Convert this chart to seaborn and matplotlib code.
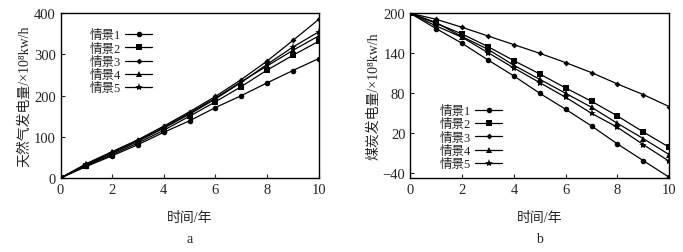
import numpy as np
import pandas as pd
import seaborn as sns
import matplotlib.pyplot as plt

years = list(range(0, 11))
scenarios = ["情景1", "情景2", "情景3", "情景4", "情景5"]

# natural gas generation (panel a)
gas_s1 = [0, 28, 54, 81, 111, 139, 171, 200, 231, 261, 290]
gas_s2 = [0, 30, 57, 85, 116, 150, 185, 222, 262, 298, 332]
gas_s3 = [0, 35, 64, 93, 126, 161, 198, 239, 284, 334, 385]
gas_s4 = [0, 33, 62, 91, 123, 158, 194, 234, 272, 310, 345]
gas_s5 = [0, 31, 60, 89, 121, 155, 192, 232, 276, 318, 355]

# coal generation (panel b)
coal_s1 = [200, 177, 155, 130, 106, 80, 56, 31, 4, -21, -46]
coal_s2 = [200, 185, 169, 150, 129, 109, 88, 68, 46, 22, -1]
coal_s3 = [200, 191, 179, 166, 153, 140, 126, 111, 94, 78, 60]
coal_s4 = [200, 186, 165, 146, 122, 101, 80, 59, 35, 12, -12]
coal_s5 = [200, 181, 164, 141, 118, 96, 74, 50, 29, 3, -22]

gas = [gas_s1, gas_s2, gas_s3, gas_s4, gas_s5]
coal = [coal_s1, coal_s2, coal_s3, coal_s4, coal_s5]
markers = ["o", "s", "D", "^", "*"]
msizes = [4, 4, 3, 4, 6]


def make_df(series):
    rows = []
    for name, vals in zip(scenarios, series):
        for x, v in zip(years, vals):
            rows.append({"年": x, "值": v, "情景": name})
    return pd.DataFrame(rows)


def draw(ax, series, ylim, yticks, ylabel, sub, legend_loc):
    df = make_df(series)
    for name, m, ms in zip(scenarios, markers, msizes):
        d = df[df["情景"] == name]
        sns.lineplot(data=d, x="年", y="值", ax=ax, color="black", linewidth=0.9,
                     marker=m, markersize=ms, markeredgewidth=0, label=name)
    ax.set_xlim(0, 10)
    ax.set_ylim(*ylim)
    ax.set_xticks(range(0, 11, 2))
    ax.set_yticks(yticks)
    ax.tick_params(direction="in", length=3, labelsize=10.5, width=0.8)
    for s in ax.spines.values():
        s.set_linewidth(1.0)
        s.set_color("black")
    ax.set_xlabel("时间/年", fontsize=10, labelpad=11)
    ax.set_ylabel(ylabel, fontsize=10, labelpad=2)
    ax.text(0.5, -0.37, sub, transform=ax.transAxes, ha="center", va="center", fontsize=10)
    ax.legend(loc="upper left", bbox_to_anchor=legend_loc, frameon=False, markerfirst=False,
              fontsize=9, handlelength=2.2, handletextpad=0.3, labelspacing=0.1,
              borderpad=0)


sns.set_style("ticks")
plt.rcParams["font.family"] = ["Liberation Serif", "Noto Sans CJK SC"]

fig = plt.figure(figsize=(6.83, 2.53), dpi=100)
ax1 = fig.add_axes([0.0886, 0.2925, 0.378, 0.651])
ax2 = fig.add_axes([0.6007, 0.2925, 0.3792, 0.651])

draw(ax1, gas, (0, 400), [0, 100, 200, 300, 400], "天然气发电量/×10⁸kw/h", "a", (0.09, 0.94))
draw(ax2, coal, (-47, 200), [-40, 20, 80, 140, 200], "煤炭发电量/×10⁸kw/h", "b", (0.09, 0.48))

fig.savefig("out.png", dpi=100)
